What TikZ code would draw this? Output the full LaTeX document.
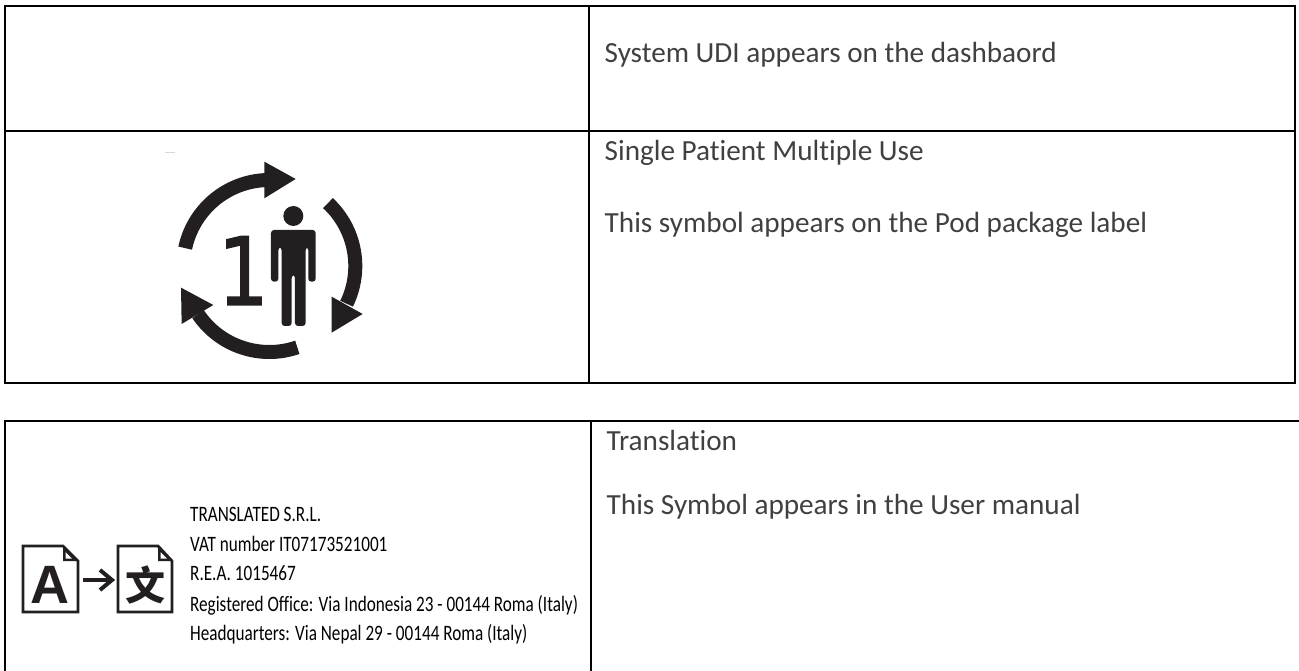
\documentclass[tikz,border=0pt]{standalone}
\usepackage{fontspec}
\setmainfont[Ligatures=NoCommon]{Carlito}
\newfontfamily\djv[FakeBold=1.5]{DejaVu Sans}
\newfontfamily\lib{Liberation Sans}
\newfontfamily\cjk{Noto Sans CJK SC}
\definecolor{txt}{HTML}{404040}
\definecolor{ink}{HTML}{231F20}
\tikzset{
  rule/.style={line width=2.2pt,black},
  celltext/.style={anchor=base west,inner sep=0pt,text=txt,font=\fontsize{29.2}{32}\selectfont},
  small/.style={anchor=base west,inner sep=0pt,text=black,xscale=0.78,font=\fontsize{22}{24}\selectfont},
  ring/.style={line width=14pt,ink},
  icon/.style={ink,line width=2.8pt}
}
\begin{document}
\begin{tikzpicture}[x=1pt,y=-1pt]
\useasboundingbox (0,0) rectangle (1299,671);
\coordinate (tl) at (5,5.7);\coordinate (tr) at (1294.6,5.7);
\coordinate (bl) at (5,383);\coordinate (br) at (1294.6,383);
\coordinate (ml) at (5,130.7);\coordinate (mr) at (1294.6,130.7);
\coordinate (vt) at (589,5.7);\coordinate (vb) at (589,383);
\coordinate (l2) at (5,421);\coordinate (r2) at (1299,421);
\coordinate (l3) at (5,671);\coordinate (v2) at (590.7,421);\coordinate (v3) at (590.7,671);
\draw[rule,line cap=rect] (tl) -- (tr) -- (br) -- (bl) -- cycle;
\draw[rule] (ml) -- (mr);
\draw[rule] (vt) -- (vb);
\draw[rule] (l3) -- (l2) -- (r2);
\draw[rule] (v2) -- (v3);

\node[celltext] (udi) at (604.5,62.5) {System UDI appears on the dashbaord};
\node[celltext] (spmu) at (604.5,161) {Single Patient Multiple Use};
\node[celltext] (pod) at (604.5,233) {This symbol appears on the Pod package label};
\node[celltext] (trn) at (606.5,450.5) {Translation};
\node[celltext] (man) at (606.5,514) {This Symbol appears in the User manual};

\node[small] (a1) at (190,521.7) {TRANSLATED S.R.L.};
\node[small] (a2) at (190,551.7) {VAT number IT07173521001};
\node[small] (a3) at (190,580) {R.E.A. 1015467};
\node[small] (a4) at (190,611) {Registered Office: Via Indonesia 23 - 00144 Roma (Italy)};
\node[small] (a5) at (190,640) {Headquarters: Via Nepal 29 - 00144 Roma (Italy)};

% single patient multiple use symbol
\begin{scope}[shift={(269.3,266)},x=1pt,y=1pt]
  \draw[ring] (168:86) arc[start angle=168,end angle=92,radius=86];
  \draw[ring] (47:86) arc[start angle=47,end angle=-26,radius=86];
  \draw[ring] (-71:86) arc[start angle=-71,end angle=-146,radius=86];
\end{scope}
\begin{scope}[shift={(130,140)},x=0.3333pt,y=-0.3333pt]
  \fill[ink] (403,65) -- (497,117) -- (403,175) -- cycle;
  \fill[ink] (605,470) -- (698,522) -- (605,578) -- cycle;
  \fill[ink] (153,443) -- (250,495) -- (155,552) -- cycle;
  \fill[ink] (490,228) circle[radius=30];
  \fill[ink,rounded corners=3pt] (423,425) -- (423,270) -- (557,270) -- (557,425) -- (535,425) -- (535,322) -- (527,322)
     -- (527,558) -- (495,558) -- (495,405) -- (485,405) -- (485,558) -- (455,558) -- (455,322) -- (445,322) -- (445,425) -- cycle;
  \node[anchor=base,inner sep=0pt,text=ink,font=\djv\fontsize{94}{94}\selectfont,xscale=0.85] (one) at (340,495) {1};
\end{scope}
\fill[black!15] (165,152.5) rectangle (175,153.5);

% translation symbol
\draw[icon,line join=miter] (23,546) -- (63,546) -- (78,561) -- (78,612) -- (23,612) -- cycle;
\fill[ink] (63,546) -- (63,561) -- (78,561) -- cycle;
\fill[white] (65.5,552) -- (65.5,558.5) -- (72,558.5) -- cycle;
\draw[icon] (118,546) -- (158,546) -- (172,561) -- (172,612) -- (118,612) -- cycle;
\fill[ink] (158,546) -- (158,561) -- (172,561) -- cycle;
\fill[white] (160.5,552) -- (160.5,558.5) -- (167,558.5) -- cycle;
\node[anchor=base,inner sep=0pt,text=ink,font=\lib\bfseries\fontsize{54}{54}\selectfont] (lettera) at (50,603) {A};
\node[anchor=center,inner sep=0pt,text=ink,font=\cjk\bfseries\fontsize{40}{40}\selectfont] (letterw) at (145,585) {文};
\draw[ink,line width=4pt] (83,580) -- (110,580);
\draw[ink,line width=4pt] (100,570) -- (112,580) -- (100,590);
\end{tikzpicture}
\end{document}
